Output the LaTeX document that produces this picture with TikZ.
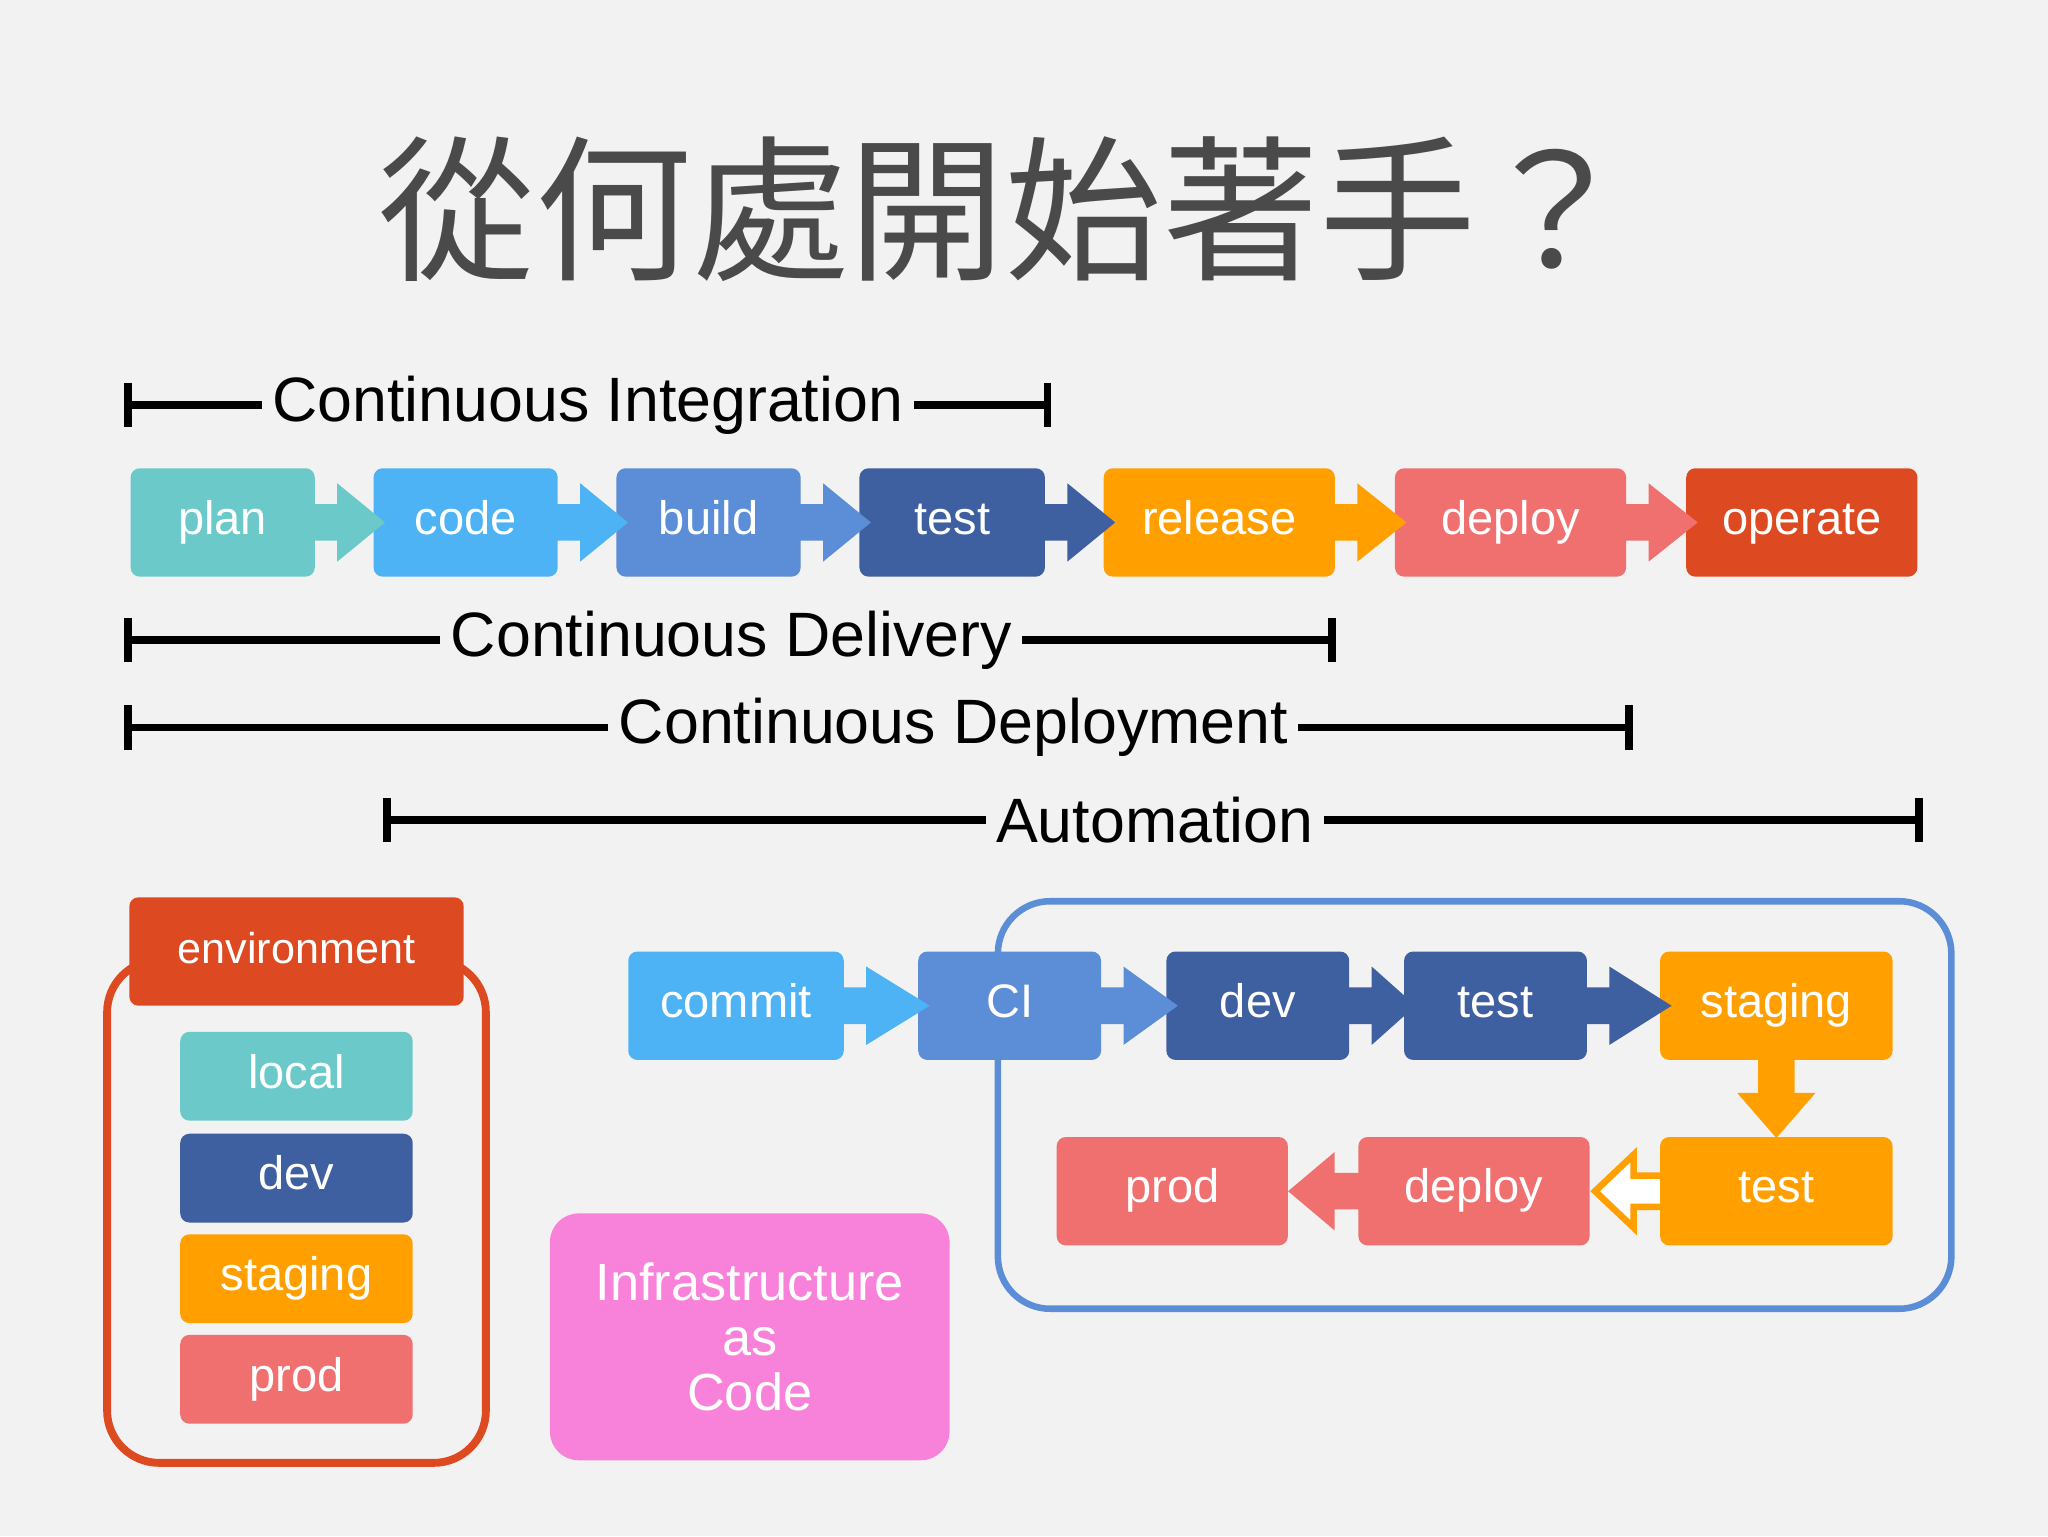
\documentclass[tikz,border=0pt]{standalone}
\usepackage{fontspec}
\setmainfont{Liberation Sans}
\newfontfamily\cjk{Noto Sans CJK TC}
\usetikzlibrary{calc}
\definecolor{bg}{HTML}{F2F2F2}
\definecolor{cplan}{HTML}{6CC9C9}
\definecolor{ccode}{HTML}{4DB3F5}
\definecolor{cbuild}{HTML}{5B8ED6}
\definecolor{ctest}{HTML}{3E5FA0}
\definecolor{crel}{HTML}{FFA000}
\definecolor{cdep}{HTML}{F07070}
\definecolor{cop}{HTML}{DD4A22}
\definecolor{ciac}{HTML}{F882DA}
\definecolor{ctitle}{HTML}{4A4A4A}
\newcommand\rarr[3]{\fill[#1] let \p1=(#2.east),\p2=(#3.west) in
 (\x1-1pt,\y1-14pt) -- (\x1+17pt,\y1-14pt) -- (\x1+17pt,\y1-30pt) -- (\x2+9pt,\y1) -- (\x1+17pt,\y1+30pt) -- (\x1+17pt,\y1+14pt) -- (\x1-1pt,\y1+14pt) -- cycle;}
\newcommand\bracketline[5]{% y, x1, x2, textx, text
 \draw[line width=6pt] (#2,#1) -- (#3,#1);
 \draw[line width=6pt] (#2,#1-17) -- (#2,#1+17);
 \draw[line width=6pt] (#3,#1-17) -- (#3,#1+17);
 \node[fill=bg,inner xsep=8pt,inner ysep=0pt,font=\fontsize{48}{52}\selectfont] at (#4,#1) {#5};}
\begin{document}
\begin{tikzpicture}[x=1pt,y=-1pt,
 box/.style={rounded corners=7pt,text=white,inner sep=0pt,minimum height=83pt,text height=26pt,text depth=8pt,font=\fontsize{36}{40}\selectfont}]
\fill[bg] (0,0) rectangle (1568,1176);
\useasboundingbox (0,0) rectangle (1568,1176);
\node[text=ctitle,font=\cjk\fontsize{120}{122}\selectfont] (title) at (770,160) {從何處開始著手？};
% top row
\node[box,fill=cplan,minimum width=141pt] (plan) at (170.5,400) {plan};
\node[box,fill=ccode,minimum width=141pt] (code) at (356.5,400) {code};
\node[box,fill=cbuild,minimum width=141pt] (build) at (542.5,400) {build};
\node[box,fill=ctest,minimum width=142pt] (test) at (729,400) {test};
\node[box,fill=crel,minimum width=177pt] (release) at (933.5,400) {release};
\node[box,fill=cdep,minimum width=177pt] (deploy) at (1156.5,400) {deploy};
\node[box,fill=cop,minimum width=177pt] (operate) at (1379.5,400) {operate};
\rarr{cplan}{plan}{code}
\rarr{ccode}{code}{build}
\rarr{cbuild}{build}{test}
\rarr{ctest}{test}{release}
\rarr{crel}{release}{deploy}
\rarr{cdep}{deploy}{operate}
% brackets
\bracketline{310}{98}{802}{450}{Continuous Integration}
\bracketline{490}{98}{1020}{560}{Continuous Delivery}
\bracketline{557}{98}{1247}{730}{Continuous Deployment}
\bracketline{628}{296}{1469}{884}{Automation}
% environment
\draw[cop,line width=6pt,fill=bg,rounded corners=40pt] (82,735) rectangle (372,1120);
\node[box,fill=cop,minimum width=256pt,font=\fontsize{33}{36}\selectfont] (env) at (227,728.5) {environment};
\node[box,fill=cplan,minimum width=178pt,minimum height=68pt] (elocal) at (227,824) {local};
\node[box,fill=ctest,minimum width=178pt,minimum height=68pt] (edev) at (227,902) {dev};
\node[box,fill=crel,minimum width=178pt,minimum height=68pt] (estag) at (227,979) {staging};
\node[box,fill=cdep,minimum width=178pt,minimum height=68pt] (eprod) at (227,1056) {prod};
% IaC
\node[rounded corners=22pt,fill=ciac,text=white,inner sep=0pt,minimum width=306pt,minimum height=189pt,align=center,font=\fontsize{40}{42}\selectfont] (iac) at (574,1023.5) {Infrastructure\\as\\Code};
% pipeline
\draw[cbuild,line width=5pt,rounded corners=40pt] (764,690) rectangle (1494,1002);
\node[box,fill=ccode,minimum width=165pt] (commit) at (563.5,770) {commit};
\node[box,fill=cbuild,minimum width=140pt] (ci) at (773,770) {CI};
\node[box,fill=ctest,minimum width=140pt] (pdev) at (963,770) {dev};
\node[box,fill=ctest,minimum width=140pt] (ptest) at (1145,770) {test};
\node[box,fill=crel,minimum width=178pt] (pstag) at (1360,770) {staging};
\node[box,fill=crel,minimum width=178pt] (ptest2) at (1360,912) {test};
\node[box,fill=cdep,minimum width=177pt] (pdeploy) at (1128.5,912) {deploy};
\node[box,fill=cdep,minimum width=177pt] (pprod) at (897.5,912) {prod};
\rarr{ccode}{commit}{ci}
\rarr{cbuild}{ci}{pdev}
\rarr{ctest}{pdev}{ptest}
\rarr{ctest}{ptest}{pstag}
% down arrow
\fill[crel] let \p1=(pstag.south),\p2=(ptest2.north) in
 (\x1-14pt,\y1+1pt) -- (\x1-14pt,\y1-25pt) -- (\x1-30pt,\y1-25pt) -- (\x1,\y2-1pt) -- (\x1+30pt,\y1-25pt) -- (\x1+14pt,\y1-25pt) -- (\x1+14pt,\y1+1pt) -- cycle;
% deploy -> prod (left)
\fill[cdep] let \p1=(pdeploy.west),\p2=(pprod.east) in
 (\x1+1pt,\y1-14pt) -- (\x1-18pt,\y1-14pt) -- (\x1-18pt,\y1-30pt) -- (\x2,\y1) -- (\x1-18pt,\y1+30pt) -- (\x1-18pt,\y1+14pt) -- (\x1+1pt,\y1+14pt) -- cycle;
% test -> deploy hollow
\draw[crel,line width=5pt,fill=white,line join=miter] let \p1=(ptest2.west),\p2=(pdeploy.east) in
 (\x1,\y1-12pt) -- (\x1-20pt,\y1-12pt) -- (\x1-20pt,\y1-28pt) -- (\x2+4pt,\y1) -- (\x1-20pt,\y1+28pt) -- (\x1-20pt,\y1+12pt) -- (\x1,\y1+12pt);
\end{tikzpicture}
\end{document}
